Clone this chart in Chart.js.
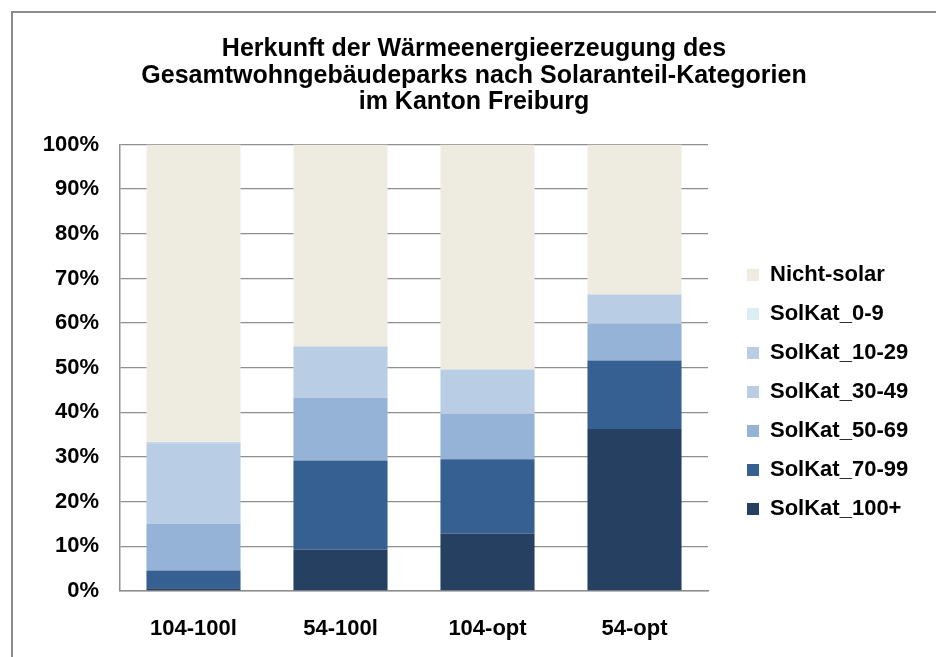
<!DOCTYPE html>
<html>
<head>
<meta charset="utf-8">
<title>Herkunft der Wärmeenergieerzeugung</title>
<script src="https://cdn.jsdelivr.net/npm/chart.js@4.4.1/dist/chart.umd.min.js"></script>
<style>
    html, body { margin: 0; padding: 0; background: #fff; overflow: hidden; }
    #frame { position: absolute; left: 11px; top: 11px; width: 1000px; height: 1000px; border: 2px solid #8c8c8c; }
    #wrap { position: absolute; left: 0; top: 0; width: 936px; height: 657px; }
</style>
</head>
<body>
<div id="frame"></div>
<div id="wrap"><canvas id="solarChart" width="936" height="657"></canvas></div>
<script>
// ========================================
// DATA (shares in %)
// ========================================
const categories = ['104-100l', '54-100l', '104-opt', '54-opt'];

const solKat100 = [0.6, 9.3, 12.9, 36.3];
const solKat70to99 = [4.0, 19.9, 16.6, 15.3];
const solKat50to69 = [10.4, 14.1, 10.2, 8.3];
const solKat30to49 = [18.1, 11.4, 9.8, 6.4];
const solKat10to29 = [0.2, 0.1, 0.1, 0.1];
const solKat0to9 = [0.1, 0, 0, 0];
const nichtSolar = [66.6, 45.2, 50.4, 33.6];

const yTicks = [0, 10, 20, 30, 40, 50, 60, 70, 80, 90, 100];

const titleLines = [
    'Herkunft der Wärmeenergieerzeugung des',
    'Gesamtwohngebäudeparks nach Solaranteil-Kategorien',
    'im Kanton Freiburg'
];

// ========================================
// CHART
// ========================================
const FONT = "'Liberation Sans', Arial, sans-serif";
const GRID = '#8f8f8f';

// legend sits a bit away from the plot, like the Excel original
const legendSpacer = {
    id: 'legendSpacer',
    afterInit(chart) {
        const legend = chart.legend;
        const fit = legend.fit;
        legend.fit = function () {
            fit.call(this);
            this.width = 228;
        };
    },
    afterLayout(chart) {
        const legend = chart.legend;
        const h = legend.bottom - legend.top;
        legend.left += 22;
        legend.right += 22;
        legend.top = 247;
        legend.bottom = 247 + h;
    }
};

function makeDataset(label, data, color) {
    return {
        label: label,
        data: data,
        backgroundColor: color,
        borderWidth: 0,
        categoryPercentage: 1.0,
        barPercentage: 0.64
    };
}

document.addEventListener('DOMContentLoaded', function () {
    const chartElement = document.getElementById('solarChart');

    new Chart(chartElement, {
        type: 'bar',
        data: {
            labels: categories,
            datasets: [
                makeDataset('SolKat_100+', solKat100, '#254061'),
                makeDataset('SolKat_70-99', solKat70to99, '#366092'),
                makeDataset('SolKat_50-69', solKat50to69, '#95B3D7'),
                makeDataset('SolKat_30-49', solKat30to49, '#B9CDE5'),
                makeDataset('SolKat_10-29', solKat10to29, '#B9CDE5'),
                makeDataset('SolKat_0-9', solKat0to9, '#DBEEF4'),
                makeDataset('Nicht-solar', nichtSolar, '#EEECE1')
            ]
        },
        options: {
            responsive: false,
            animation: false,
            layout: {
                padding: { left: 12, top: 0, right: 0, bottom: 15 }
            },
            plugins: {
                title: {
                    display: true,
                    text: titleLines,
                    color: '#000',
                    font: { family: FONT, size: 25, weight: 'bold', lineHeight: 1.06 },
                    padding: { top: 36, bottom: 29 }
                },
                legend: {
                    position: 'right',
                    align: 'start',
                    reverse: true,
                    labels: {
                        color: '#000',
                        boxWidth: 12,
                        boxHeight: 12,
                        padding: 17,
                        font: { family: FONT, size: 22, weight: 'bold' }
                    }
                },
                tooltip: { enabled: false }
            },
            scales: {
                x: {
                    stacked: true,
                    afterFit: function (scale) {
                        scale.height = 51;
                    },
                    grid: { display: false, drawTicks: false },
                    border: { display: true, color: GRID, width: 1.5 },
                    ticks: {
                        color: '#000',
                        padding: 25,
                        font: { family: FONT, size: 22, weight: 'bold' }
                    }
                },
                y: {
                    stacked: true,
                    min: 0,
                    max: 100,
                    afterFit: function (scale) {
                        scale.width = 108;
                    },
                    afterBuildTicks: function (scale) {
                        scale.ticks = yTicks.map(function (v) { return { value: v }; });
                    },
                    grid: { color: GRID, lineWidth: 1.3, drawTicks: false },
                    border: { display: true, color: GRID, width: 1.5 },
                    ticks: {
                        color: '#000',
                        padding: 21,
                        font: { family: FONT, size: 22, weight: 'bold' },
                        callback: function (value) {
                            return value + '%';
                        }
                    }
                }
            }
        },
        plugins: [legendSpacer]
    });
});
</script>
</body>
</html>
